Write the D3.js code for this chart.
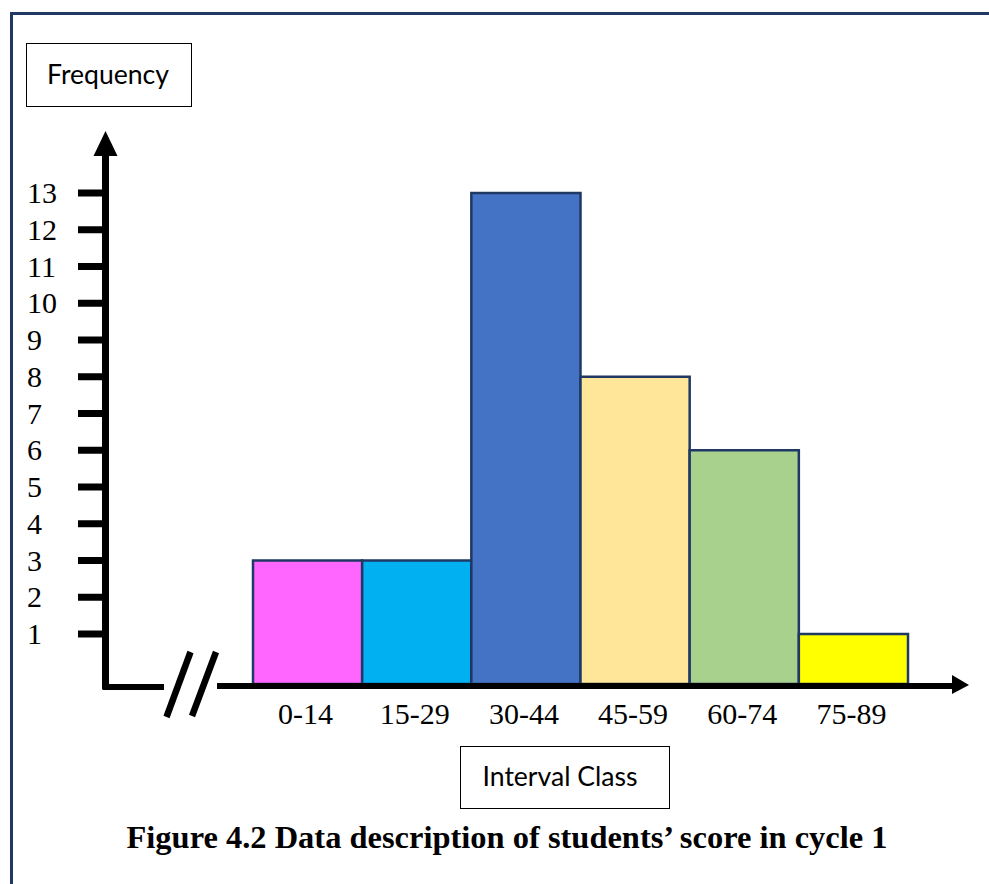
<!DOCTYPE html>
<html>
<head>
<meta charset="utf-8">
<script src="https://cdn.jsdelivr.net/npm/d3@7/dist/d3.min.js"></script>
<style>
  html, body { margin: 0; padding: 0; background: #fff; }
  svg { display: block; }
</style>
</head>
<body>
<svg id="chart" width="989" height="884"></svg>
<script>
// ---- data ----
const categories = ["0-14", "15-29", "30-44", "45-59", "60-74", "75-89"];
const frequencies = [3, 3, 13, 8, 6, 1];
const yTicks = [1, 2, 3, 4, 5, 6, 7, 8, 9, 10, 11, 12, 13];
const barColors = ["#ff66ff", "#00b0f0", "#4472c4", "#ffe699", "#a9d18e", "#ffff00"];
const yTitle = "Frequency";
const xTitle = "Interval Class";
const caption = "Figure 4.2 Data description of students\u2019 score in cycle 1";

const svg = d3.select("#chart");
const navy = "#1f3864";

// frame
svg.append("rect").attr("x", 11.5).attr("y", 13.5).attr("width", 1000).attr("height", 1000)
  .attr("fill", "none").attr("stroke", navy).attr("stroke-width", 3);

// scales
const axisY = 686;
const axisX = 105.5;
const y = d3.scaleLinear().domain([1, 13]).range([634, 193]);
const x = d3.scaleBand().domain(categories).range([253, 908]).padding(0);

// bars
svg.append("g").selectAll("rect").data(frequencies).join("rect")
  .attr("x", (d, i) => x(categories[i]))
  .attr("y", d => y(d))
  .attr("width", x.bandwidth())
  .attr("height", d => axisY - 2 - y(d))
  .attr("fill", (d, i) => barColors[i])
  .attr("stroke", navy).attr("stroke-width", 2.5);

// y axis shaft + arrow
svg.append("line").attr("x1", axisX).attr("x2", axisX).attr("y1", 150).attr("y2", axisY + 3)
  .attr("stroke", "#000").attr("stroke-width", 7);
svg.append("path").attr("d", `M${axisX - 12},156 L${axisX},131 L${axisX + 12},156 Z`).attr("fill", "#000");

// y ticks
svg.append("g").selectAll("line").data(yTicks).join("line")
  .attr("x1", 78).attr("x2", axisX).attr("y1", d => y(d)).attr("y2", d => y(d))
  .attr("stroke", "#000").attr("stroke-width", 7);
svg.append("g").selectAll("text").data(yTicks).join("text")
  .attr("x", 27).attr("y", d => y(d) + 10)
  .attr("font-family", "'Liberation Serif', 'Times New Roman', serif")
  .attr("font-size", 30).attr("fill", "#000")
  .text(d => d);

// x axis: left segment, break, right segment + arrow
svg.append("line").attr("x1", axisX - 3).attr("x2", 164).attr("y1", axisY + 1).attr("y2", axisY + 1)
  .attr("stroke", "#000").attr("stroke-width", 6);
svg.append("line").attr("x1", 217).attr("x2", 955).attr("y1", axisY).attr("y2", axisY)
  .attr("stroke", "#000").attr("stroke-width", 6);
svg.append("path").attr("d", `M952,675 L969,685 L952,694 Z`).attr("fill", "#000");
[[190.5, 652, 166.5, 717], [216, 652, 192, 716]].forEach(s => {
  svg.append("line").attr("x1", s[0]).attr("y1", s[1]).attr("x2", s[2]).attr("y2", s[3])
    .attr("stroke", "#000").attr("stroke-width", 6.5);
});

// x tick labels
svg.append("g").selectAll("text").data(categories).join("text")
  .attr("x", d => x(d) + x.bandwidth() / 2 - 2)
  .attr("y", 724)
  .attr("text-anchor", "middle")
  .attr("font-family", "'Liberation Serif', 'Times New Roman', serif")
  .attr("font-size", 30).attr("fill", "#000")
  .text(d => d);

function fitText(sel, width) {
  const fs = +sel.attr("font-size");
  const w = sel.node().getComputedTextLength();
  sel.attr("font-size", fs * width / w);
}

// Frequency box
svg.append("rect").attr("x", 26.5).attr("y", 43.5).attr("width", 165).attr("height", 63)
  .attr("fill", "#fff").attr("stroke", "#000").attr("stroke-width", 1);
svg.append("text").attr("x", 108).attr("y", 84).attr("text-anchor", "middle")
  .attr("font-family", "Lato, 'Open Sans', sans-serif").attr("font-size", 26).attr("fill", "#000")
  .attr("textLength", 122).attr("lengthAdjust", "spacingAndGlyphs")
  .text(yTitle);

// Interval Class box
svg.append("rect").attr("x", 460.5).attr("y", 746.5).attr("width", 209).attr("height", 62)
  .attr("fill", "#fff").attr("stroke", "#000").attr("stroke-width", 1);
svg.append("text").attr("x", 560).attr("y", 786).attr("text-anchor", "middle")
  .attr("font-family", "Lato, 'Open Sans', sans-serif").attr("font-size", 26).attr("fill", "#000")
  .attr("textLength", 155).attr("lengthAdjust", "spacingAndGlyphs")
  .text(xTitle);

// caption
svg.append("text").attr("x", 507).attr("y", 848).attr("text-anchor", "middle")
  .attr("font-family", "'Liberation Serif', 'Times New Roman', serif").attr("font-weight", "bold")
  .attr("font-size", 31).attr("fill", "#000")
  .attr("textLength", 761).attr("lengthAdjust", "spacingAndGlyphs")
  .text(caption);
</script>
</body>
</html>
